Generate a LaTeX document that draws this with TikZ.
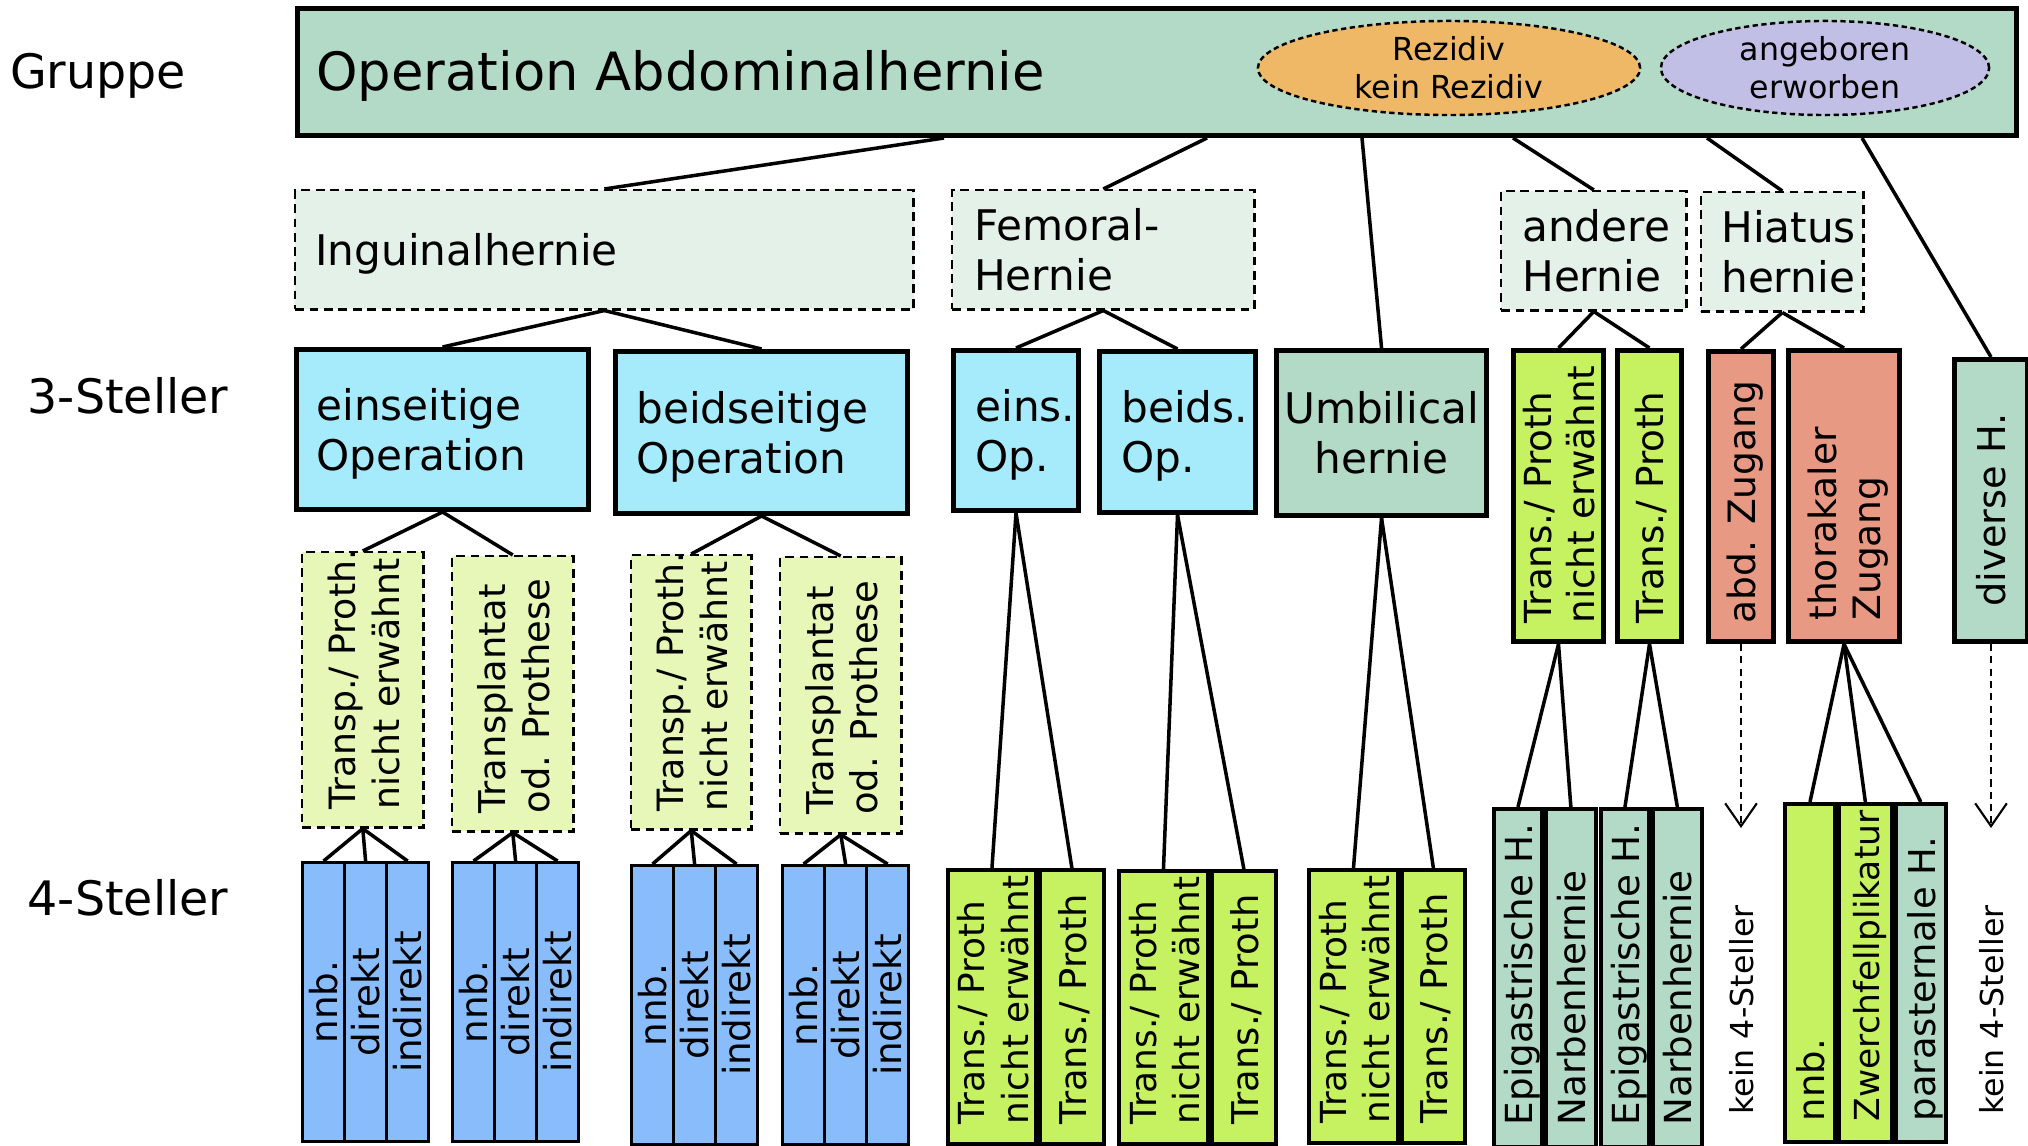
\documentclass[tikz,border=0pt]{standalone}
\usepackage{fontspec}
\setmainfont{DejaVu Sans}
\usepackage{graphicx}
\usetikzlibrary{arrows.meta,shapes.geometric}

\definecolor{grpgreen}{RGB}{178,218,198}
\definecolor{palegreen}{RGB}{227,241,232}
\definecolor{cyanbox}{RGB}{166,235,252}
\definecolor{limebox}{RGB}{198,242,98}
\definecolor{salmonbox}{RGB}{232,153,131}
\definecolor{paleyellow}{RGB}{230,247,184}
\definecolor{bluecell}{RGB}{137,188,250}
\definecolor{orangeel}{RGB}{239,184,102}
\definecolor{lavender}{RGB}{194,191,230}

\tikzset{
  box/.style={draw,inner sep=0pt,anchor=north west},
  grp/.style={box,line width=1.4pt},
  opt/.style={box,dash pattern=on 2.5pt off 1.6pt,line width=0.7pt},
  cell/.style={box,line width=1.1pt},
  link/.style={line width=1pt},
  nolvl/.style={dash pattern=on 2pt off 1.5pt,line width=0.6pt,-{Straight Barb[length=6.5pt,width=9pt]}},
  vtext/.style={font=\fontsize{10.5}{12.4}\selectfont},
  lvl/.style={font=\fontsize{13.5}{16}\selectfont},
  tag/.style={ellipse,draw,dash pattern=on 1.5pt off 1pt,line width=0.7pt,inner sep=0pt,minimum height=0.94cm},
  tagtext/.style={font=\fontsize{9}{10.8}\selectfont,align=center}
}
% text left aligned in a box of given width
\newcommand{\htxt}[2]{\makebox[#1][l]{\raisebox{-1.6pt}[\height][\depth]{\begin{tabular}{@{}l@{}}#2\end{tabular}}}}
\newcommand{\vtxt}[2]{\rotatebox{90}{\htxt{#1}{#2}}}
% three 4-Steller cells below an inguinal box
\newcommand{\ingucells}[4]{%
  \foreach \lab [count=\k] in {nnb.,direkt,indirekt}
    \node[cell,line width=0.9pt,fill=bluecell,minimum width=0.42cm,minimum height=2.79cm,vtext,font=\fontsize{10.6}{12.4}\selectfont]
      (#1\k) at ({#3+42*(\k-1)},#4) {\rotatebox{90}{\lab}};
  \foreach \k in {1,2,3} \draw[link] (#2.south) -- (#1\k.north);
}

\begin{document}
\begin{tikzpicture}[x=0.01cm,y=-0.01cm,font=\fontsize{12}{14.2}\selectfont]
  \useasboundingbox (0,0) rectangle (2028,1146);

  % LEVELS
  \node[lvl] (lgrp) at (98,76) {Gruppe};
  \node[lvl] (l3) at (128,396) {3-Steller};
  \node[lvl] (l4) at (128,898) {4-Steller};

  % GRUPPE
  \node[grp,fill=grpgreen,minimum width=17.18cm,minimum height=1.27cm,font=\fontsize{15}{18}\selectfont]
    (top) at (295,6) {\htxt{16.8cm}{Operation Abdominalhernie}};
  \node[tag,fill=orangeel,minimum width=3.82cm,
    label={[tagtext]center:Rezidiv\\kein Rezidiv}] (rez) at (1449,68) {};
  \node[tag,fill=lavender,minimum width=3.28cm,
    label={[tagtext]center:angeboren\\erworben}] (ang) at (1825,68) {};

  % HERNIA TYPES
  \node[opt,fill=palegreen,minimum width=6.18cm,minimum height=1.19cm] (ing) at (294,189) {\htxt{5.78cm}{Inguinalhernie}};
  \node[opt,fill=palegreen,minimum width=3.02cm,minimum height=1.19cm] (fem) at (951,189) {\htxt{2.58cm}{Femoral-\\Hernie}};
  \node[opt,fill=palegreen,minimum width=1.85cm,minimum height=1.19cm] (andh) at (1500,190) {\htxt{1.43cm}{andere\\Hernie}};
  \node[opt,fill=palegreen,minimum width=1.62cm,minimum height=1.19cm] (hia) at (1700,191) {\htxt{1.22cm}{Hiatus\\hernie}};

  % 3-STELLER
  \node[grp,fill=cyanbox,minimum width=2.92cm,minimum height=1.60cm] (ein) at (294,347) {\htxt{2.52cm}{einseitige\\Operation}};
  \node[grp,fill=cyanbox,minimum width=2.92cm,minimum height=1.62cm] (bei) at (613,349) {\htxt{2.50cm}{beidseitige\\Operation}};
  \node[grp,fill=cyanbox,minimum width=1.25cm,minimum height=1.60cm] (eins) at (951,348) {\htxt{0.81cm}{eins.\\Op.}};
  \node[grp,fill=cyanbox,minimum width=1.56cm,minimum height=1.61cm] (beids) at (1097,349) {\htxt{1.12cm}{beids.\\Op.}};
  \node[grp,fill=grpgreen,minimum width=2.10cm,minimum height=1.65cm] (umb) at (1274,348)
    {\raisebox{-1.6pt}[\height][\depth]{\begin{tabular}{@{}c@{}}Umbilical\\hernie\end{tabular}}};
  \node[grp,fill=limebox,minimum width=0.90cm,minimum height=2.91cm,vtext,font=\fontsize{10.6}{12.4}\selectfont] (tpn) at (1511,348) {\vtxt{2.55cm}{Trans./ Proth\\nicht erwähnt}};
  \node[grp,fill=limebox,minimum width=0.64cm,minimum height=2.91cm,vtext,font=\fontsize{10.6}{12.4}\selectfont] (tp) at (1615,348) {\vtxt{2.55cm}{Trans./ Proth}};
  \node[grp,fill=salmonbox,minimum width=0.65cm,minimum height=2.90cm,vtext,font=\fontsize{10.7}{12.4}\selectfont] (abd) at (1706,349) {\vtxt{2.54cm}{abd. Zugang}};
  \node[grp,fill=salmonbox,minimum width=1.11cm,minimum height=2.91cm,vtext,font=\fontsize{10.7}{12.6}\selectfont] (tho) at (1786,348) {\vtxt{2.49cm}{thorakaler\\Zugang}};
  \node[grp,fill=grpgreen,minimum width=0.73cm,minimum height=2.82cm,vtext,font=\fontsize{10.9}{12.4}\selectfont] (div) at (1952,357) {\vtxt{2.12cm}{diverse H.}};

  % INGUINAL SUBGROUPS
  \node[opt,fill=paleyellow,minimum width=1.21cm,minimum height=2.75cm,vtext,font=\fontsize{10.3}{12.6}\selectfont] (a1) at (301,551) {\vtxt{2.39cm}{Transp./ Proth.\\nicht erwähnt}};
  \node[opt,fill=paleyellow,minimum width=1.21cm,minimum height=2.75cm,vtext,font=\fontsize{10.5}{12.6}\selectfont] (a2) at (451,555) {\vtxt{2.39cm}{Transplantat\\od. Prothese}};
  \node[opt,fill=paleyellow,minimum width=1.20cm,minimum height=2.74cm,vtext,font=\fontsize{10.3}{12.6}\selectfont] (b1) at (630,554) {\vtxt{2.39cm}{Transp./ Proth.\\nicht erwähnt}};
  \node[opt,fill=paleyellow,minimum width=1.21cm,minimum height=2.76cm,vtext,font=\fontsize{10.5}{12.6}\selectfont] (b2) at (779,556) {\vtxt{2.39cm}{Transplantat\\od. Prothese}};

  % 4-STELLER
  \ingucells{c}{a1}{301}{861}
  \ingucells{d}{a2}{451}{861}
  \ingucells{e}{b1}{630}{864}
  \ingucells{f}{b2}{781}{864}

  \node[cell,fill=limebox,minimum width=0.88cm,minimum height=2.74cm,vtext,font=\fontsize{10.2}{12.4}\selectfont] (g1) at (946,868) {\vtxt{2.34cm}{Trans./ Proth\\nicht erwähnt}};
  \node[cell,fill=limebox,minimum width=0.64cm,minimum height=2.74cm,vtext] (g2) at (g1.north east) {\vtxt{2.34cm}{Trans./ Proth}};
  \node[cell,fill=limebox,minimum width=0.89cm,minimum height=2.73cm,vtext,font=\fontsize{10.2}{12.4}\selectfont] (h1) at (1117,869) {\vtxt{2.34cm}{Trans./ Proth\\nicht erwähnt}};
  \node[cell,fill=limebox,minimum width=0.64cm,minimum height=2.73cm,vtext] (h2) at (h1.north east) {\vtxt{2.34cm}{Trans./ Proth}};
  \node[cell,fill=limebox,minimum width=0.89cm,minimum height=2.73cm,vtext,font=\fontsize{10.2}{12.4}\selectfont] (u1) at (1307,868) {\vtxt{2.34cm}{Trans./ Proth\\nicht erwähnt}};
  \node[cell,fill=limebox,minimum width=0.63cm,minimum height=2.73cm,vtext] (u2) at (u1.north east) {\vtxt{2.34cm}{Trans./ Proth}};

  \node[cell,fill=grpgreen,minimum width=0.48cm,minimum height=3.38cm,vtext,font=\fontsize{10.6}{12.4}\selectfont] (n1) at (1492,807) {\vtxt{2.94cm}{Epigastrische H.}};
  \node[cell,fill=grpgreen,minimum width=0.50cm,minimum height=3.38cm,vtext,font=\fontsize{10.6}{12.4}\selectfont] (n2) at (n1.north east) {\vtxt{2.94cm}{Narbenhernie}};
  \node[cell,fill=grpgreen,minimum width=0.48cm,minimum height=3.38cm,vtext,font=\fontsize{10.6}{12.4}\selectfont] (p1) at (1599,807) {\vtxt{2.94cm}{Epigastrische H.}};
  \node[cell,fill=grpgreen,minimum width=0.49cm,minimum height=3.38cm,vtext,font=\fontsize{10.6}{12.4}\selectfont] (p2) at (p1.north east) {\vtxt{2.94cm}{Narbenhernie}};

  \node[cell,fill=limebox,minimum width=0.50cm,minimum height=3.38cm,vtext] (z1) at (1783,802) {\vtxt{2.96cm}{nnb.}};
  \node[cell,fill=limebox,minimum width=0.53cm,minimum height=3.38cm,vtext,font=\fontsize{9.8}{12.4}\selectfont] (z2) at (z1.north east) {\vtxt{2.96cm}{Zwerchfellplikatur}};
  \node[cell,fill=grpgreen,minimum width=0.50cm,minimum height=3.38cm,vtext] (z3) at (z2.north east) {\vtxt{2.96cm}{parasternale H.}};

  \node[rotate=90,font=\fontsize{9}{11}\selectfont] (k1) at (1742,1010) {kein 4-Steller};
  \node[rotate=90,font=\fontsize{9}{11}\selectfont] (k2) at (1992,1010) {kein 4-Steller};

  % CONNECTORS
  \coordinate (s1) at (944,0 |- top.south);
  \coordinate (s2) at (1207,0 |- top.south);
  \coordinate (s3) at (1362,0 |- top.south);
  \coordinate (s4) at (1513,0 |- top.south);
  \coordinate (s5) at (1707,0 |- top.south);
  \coordinate (s6) at (1862,0 |- top.south);
  \draw[link] (s1) -- (ing.north);
  \draw[link] (s2) -- (fem.north);
  \draw[link] (s3) -- (umb.north);
  \draw[link] (s4) -- (andh.north);
  \draw[link] (s5) -- (hia.north);
  \draw[link] (s6) -- (div.north);

  \draw[link] (ing.south) -- (ein.north);
  \draw[link] (ing.south) -- (bei.north);
  \draw[link] (fem.south) -- (eins.north);
  \draw[link] (fem.south) -- (beids.north);
  \draw[link] (andh.south) -- (tpn.north);
  \draw[link] (andh.south) -- (tp.north);
  \draw[link] (hia.south) -- (abd.north);
  \draw[link] (hia.south) -- (tho.north);

  \draw[link] (ein.south) -- (a1.north);
  \draw[link] (ein.south) -- (a2.north);
  \draw[link] (bei.south) -- (b1.north);
  \draw[link] (bei.south) -- (b2.north);

  \draw[link] (eins.south) -- (g1.north);
  \draw[link] (eins.south) -- (g2.north);
  \draw[link] (beids.south) -- (h1.north);
  \draw[link] (beids.south) -- (h2.north);
  \draw[link] (umb.south) -- (u1.north);
  \draw[link] (umb.south) -- (u2.north);
  \draw[link] (tpn.south) -- (n1.north);
  \draw[link] (tpn.south) -- (n2.north);
  \draw[link] (tp.south) -- (p1.north);
  \draw[link] (tp.south) -- (p2.north);
  \draw[link] (tho.south) -- (z1.north);
  \draw[link] (tho.south) -- (z2.north);
  \draw[link] (tho.south) -- (z3.north);

  \coordinate (abdend) at (abd.south |- 0,828);
  \coordinate (divend) at (div.south |- 0,828);
  \draw[nolvl] (abd.south) -- (abdend);
  \draw[nolvl] (div.south) -- (divend);
\end{tikzpicture}
\end{document}
